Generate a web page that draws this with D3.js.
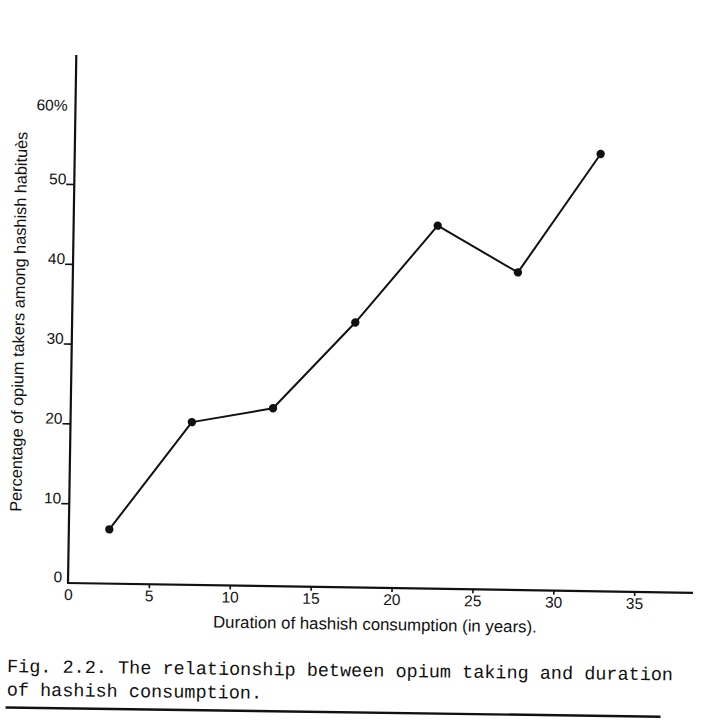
<!DOCTYPE html>
<html>
<head>
<meta charset="utf-8">
<script src="https://cdn.jsdelivr.net/npm/d3@7/dist/d3.min.js"></script>
<style>
  html, body { margin: 0; padding: 0; background: #fff; }
  svg { display: block; }
</style>
</head>
<body>
<script>
// ---- data ----
const years = [2.5, 7.5, 12.5, 17.5, 22.5, 27.5, 32.5];
const percent = [6.8, 20.4, 22.3, 33.2, 45.5, 39.8, 54.8];
const xTickValues = [0, 5, 10, 15, 20, 25, 30, 35];
const yTickValues = [0, 10, 20, 30, 40, 50, 60];
const yTickLabels = ["0", "10", "20", "30", "40", "50", "60%"];
const xTitle = "Duration of hashish consumption (in years).";
const yTitle = "Percentage of opium takers among hashish habitu\u00e8s";
const captionLines = [
  "Fig. 2.2. The relationship between opium taking and duration",
  "of hashish consumption."
];

const W = 723, H = 720;
const svg = d3.select("body").append("svg").attr("width", W).attr("height", H);
svg.append("rect").attr("width", W).attr("height", H).attr("fill", "#fff");

const ink = "#111";
const sans = "'Liberation Sans', Arial, sans-serif";

// chart group: origin at data (0,0); scanned page is slightly rotated
const g = svg.append("g").attr("transform", "translate(68,583) rotate(0.9)");

const x = d3.scaleLinear().domain([0, 35]).range([0, 35 * 16.18]);
const y = d3.scaleLinear().domain([0, 60]).range([0, -60 * 7.98]);

// axis lines
g.append("line").attr("x1", 0).attr("y1", 0).attr("x2", 0).attr("y2", -528)
  .attr("stroke", ink).attr("stroke-width", 2.2);
g.append("line").attr("x1", -1).attr("y1", 0).attr("x2", 625).attr("y2", 0)
  .attr("stroke", ink).attr("stroke-width", 2.2);

// x axis ticks
const xAxis = g.append("g").call(
  d3.axisBottom(x).tickValues(xTickValues).tickSize(4).tickPadding(2).tickFormat(d3.format("d"))
);
xAxis.select(".domain").remove();
xAxis.selectAll(".tick line").attr("stroke", ink).attr("stroke-width", 1.6)
  .filter(d => d === 0).remove();
xAxis.selectAll(".tick text").attr("fill", ink).attr("font-family", sans).attr("font-size", 15.5);

// y axis ticks
const yAxis = g.append("g").call(
  d3.axisLeft(y).tickValues(yTickValues).tickSize(8).tickPadding(0)
    .tickFormat((d, i) => yTickLabels[i])
);
yAxis.select(".domain").remove();
yAxis.selectAll(".tick line").attr("stroke", ink).attr("stroke-width", 1.6)
  .filter(d => d === 0 || d === 60).remove();
yAxis.selectAll(".tick text").attr("fill", ink).attr("font-family", sans).attr("font-size", 15.5)
  .attr("dy", d => d === 60 ? "0.4em" : "0em")
  .attr("x", d => d === 0 ? -6 : -8)
  .attr("y", d => d === 0 ? -1 : 0);

// axis titles
g.append("text").attr("x", 145.7).attr("y", 42.2)
  .attr("font-family", sans).attr("font-size", 16.8).attr("fill", ink)
  .text(xTitle);
g.append("text").attr("transform", "translate(-53.5,-260.5) rotate(-90)")
  .attr("text-anchor", "middle").attr("dy", "0.35em")
  .attr("font-family", sans).attr("font-size", 16.3).attr("fill", ink)
  .text(yTitle);

// data line and points
const pts = years.map((d, i) => [d, percent[i]]);
g.append("path").datum(pts)
  .attr("d", d3.line().x(d => x(d[0])).y(d => y(d[1])))
  .attr("fill", "none").attr("stroke", ink).attr("stroke-width", 2)
  .attr("stroke-linejoin", "round");
g.selectAll("circle.pt").data(pts).join("circle").attr("class", "pt")
  .attr("cx", d => x(d[0])).attr("cy", d => y(d[1])).attr("r", 4.2).attr("fill", ink);

// caption (typewritten, monospace): one text per word along the tilted baseline
const capFont = 18.5, adv = capFont * 0.6;
const cap = svg.append("g").attr("transform", "translate(7,672) rotate(0.72)");
captionLines.forEach((line, li) => {
  let idx = 0;
  const words = [];
  line.split(" ").forEach(w => { words.push({ w, i: idx }); idx += w.length + 1; });
  cap.selectAll(null).data(words).join("text")
    .attr("x", d => d.i * adv).attr("y", li * 23.5)
    .attr("font-family", "'Liberation Mono', 'Courier New', monospace")
    .attr("font-size", capFont).attr("fill", ink)
    .text(d => d.w);
});
cap.append("line").attr("x1", -1).attr("y1", 35.5).attr("x2", 654).attr("y2", 36.5)
  .attr("stroke", ink).attr("stroke-width", 2.4);
</script>
</body>
</html>
